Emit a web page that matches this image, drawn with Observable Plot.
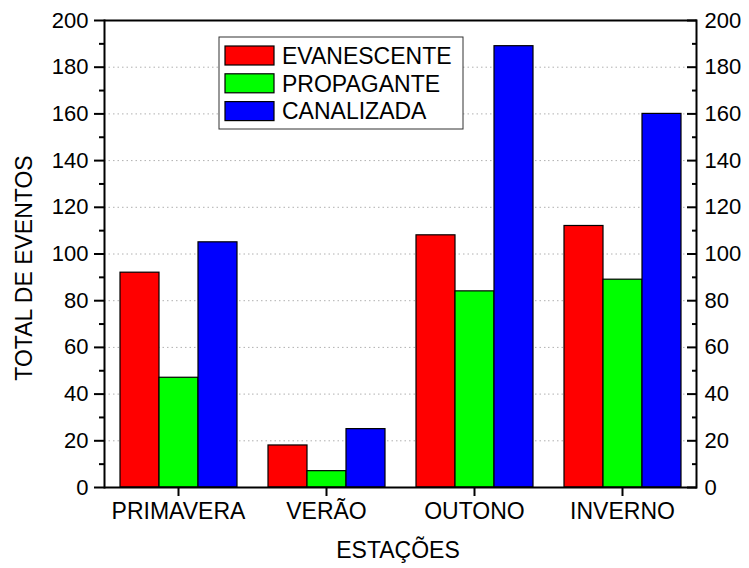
<!DOCTYPE html>
<html><head><meta charset="utf-8">
<script src="https://cdn.jsdelivr.net/npm/d3@7"></script>
<script src="https://cdn.jsdelivr.net/npm/@observablehq/plot@0.6"></script>
<style>body{margin:0;background:#fff;} #chart{width:749px;height:568px;}</style>
</head><body><div id="chart"></div>
<script>
const seasons = ["PRIMAVERA", "VERÃO", "OUTONO", "INVERNO"];
const series = ["EVANESCENTE", "PROPAGANTE", "CANALIZADA"];
const colors = ["#ff0000", "#00ff00", "#0000ff"];
const evanescente = [92, 18, 108, 112];
const propagante = [47, 7, 84, 89];
const canalizada = [105, 25, 189, 160];
const yTicks = [0, 20, 40, 60, 80, 100, 120, 140, 160, 180, 200];
const yMinorTicks = [10, 30, 50, 70, 90, 110, 130, 150, 170, 190];
const gridTicks = [20, 40, 60, 80, 100, 120, 140, 160, 180];
const xTitle = "ESTAÇÕES";
const yTitle = "TOTAL DE EVENTOS";

const valuesBySeries = [evanescente, propagante, canalizada];
const data = seasons.flatMap((s, i) => series.map((t, j) => ({season: s, type: t, value: valuesBySeries[j][i]})));

const W = 749, H = 568, mT = 20, mB = 81, mL = 103, mR = 53;
const font = "'Liberation Sans', Arial, sans-serif";

const plot = Plot.plot({
  width: W, height: H, marginTop: mT, marginBottom: mB, marginLeft: mL, marginRight: mR,
  style: {fontFamily: font, fontSize: "22px", color: "#000", background: "#fff", overflow: "visible"},
  fx: {domain: seasons, padding: 0},
  x: {domain: series, paddingInner: 0, paddingOuter: 0.39, axis: null},
  y: {domain: [0, 200]},
  color: {domain: series, range: colors},
  marks: [
    Plot.gridY(gridTicks, {stroke: "#b0b0b0", strokeOpacity: 1, strokeDasharray: "1.5,3"}),
    Plot.barY(data, {fx: "season", x: "type", y: "value", fill: "type", stroke: "#000", strokeWidth: 1.2}),
    Plot.ruleY([0], {stroke: "#000", strokeWidth: 2}),
    Plot.ruleY([200], {stroke: "#000", strokeWidth: 2}),
    Plot.frame({anchor: "left", facetAnchor: "left", stroke: "#000", strokeWidth: 2}),
    Plot.frame({anchor: "right", facetAnchor: "right", stroke: "#000", strokeWidth: 2}),
    Plot.axisY(yTicks, {anchor: "left", tickSize: 10, tickPadding: 6, label: null, fontSize: 22, strokeWidth: 2}),
    Plot.axisY(yMinorTicks, {anchor: "left", tickSize: 5, text: null, label: null, strokeWidth: 2}),
    Plot.axisY(yTicks, {anchor: "right", tickSize: -10, tickPadding: 18, label: null, fontSize: 22, strokeWidth: 2}),
    Plot.axisY(yMinorTicks, {anchor: "right", tickSize: -5, text: null, label: null, strokeWidth: 2}),
    Plot.axisFx({anchor: "bottom", tickSize: 9, tickPadding: 6, label: null, fontSize: 23, strokeWidth: 2})
  ]
});

const svg = d3.select(plot);
// Axis titles
svg.append("text").text(xTitle)
  .attr("x", 398).attr("y", 558)
  .attr("text-anchor", "middle").attr("font-size", 23).attr("font-family", font).attr("fill", "#000");
svg.append("text").text(yTitle)
  .attr("transform", `translate(32, 268) rotate(-90)`)
  .attr("text-anchor", "middle").attr("font-size", 23).attr("font-family", font).attr("fill", "#000");

// Legend
const lg = svg.append("g");
lg.append("rect").attr("x", 219).attr("y", 37).attr("width", 244).attr("height", 92)
  .attr("fill", "#fff").attr("stroke", "#333").attr("stroke-width", 1);
series.forEach((s, j) => {
  const cy = 55.5 + j * 27.8;
  lg.append("rect").attr("x", 225).attr("y", cy - 9.5).attr("width", 49).attr("height", 19)
    .attr("fill", colors[j]).attr("stroke", "#000").attr("stroke-width", 1.2);
  lg.append("text").text(s).attr("x", 282).attr("y", cy).attr("dy", "0.36em")
    .attr("text-anchor", "start")
    .attr("font-size", 23).attr("font-family", font).attr("fill", "#000");
});

document.getElementById("chart").appendChild(plot);
</script>
</body></html>
